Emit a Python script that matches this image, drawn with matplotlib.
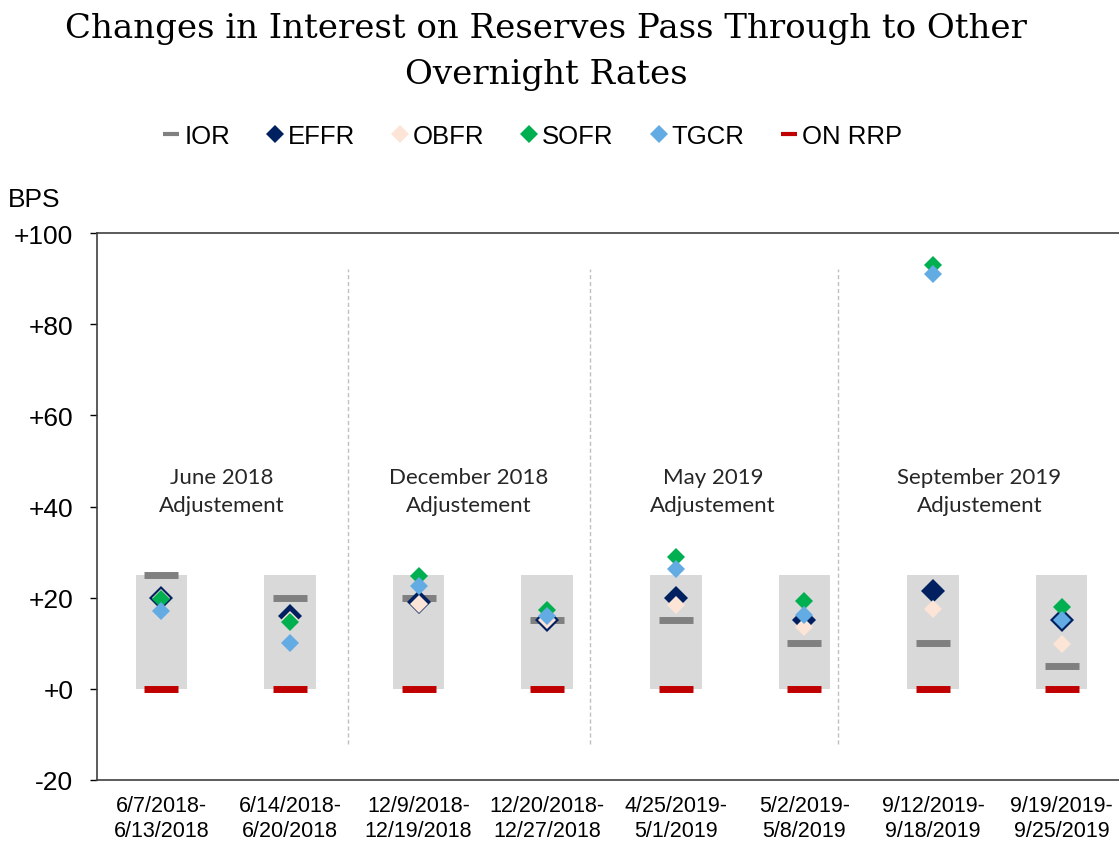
import numpy as np
import matplotlib.pyplot as plt
from matplotlib.lines import Line2D

# %%
periods = ["6/7/2018-\n6/13/2018", "6/14/2018-\n6/20/2018",
           "12/9/2018-\n12/19/2018", "12/20/2018-\n12/27/2018",
           "4/25/2019-\n5/1/2019", "5/2/2019-\n5/8/2019",
           "9/12/2019-\n9/18/2019", "9/19/2019-\n9/25/2019"]
ior = [25, 20, 20, 15, 15, 10, 10, 5]
effr = [20, 16, 19, 15, 20, 15, 21.5, 15.2]
obfr = [20, 15, 18.7, 15, 18.3, 13.5, 17.6, 9.9]
sofr = [19.8, 14.7, 24.7, 17.3, 29, 19.3, 93, 18]
tgcr = [17, 10, 22.5, 16, 26.3, 16.1, 91, 15.2]
on_rrp = [0, 0, 0, 0, 0, 0, 0, 0]
corridor_top = [25, 25, 25, 25, 25, 25, 25, 25]
groups = ["June 2018\nAdjustement", "December 2018\nAdjustement",
          "May 2019\nAdjustement", "September 2019\nAdjustement"]
yticks = [-20, 0, 20, 40, 60, 80, 100]
ytick_labels = ["-20", "+0", "+20", "+40", "+60", "+80", "+100"]

# %%
c_box = "#d9d9d9"
c_ior = "#808080"
c_effr = "#002060"
c_obfr = "#fce4d6"
c_sofr = "#00b050"
c_tgcr = "#62abe3"
c_rrp = "#c00000"

fig = plt.figure(figsize=(11.19, 8.45), dpi=100)
ax = fig.add_axes([97 / 1119, 64 / 845, 1029 / 1119, 547 / 845])

x = np.arange(len(periods))

ax.bar(x, corridor_top, width=0.4, color=c_box, zorder=1)
ax.plot(x, ior, ls="none", marker="_", ms=24, mew=5, color=c_ior, zorder=2)
ax.plot(x, on_rrp, ls="none", marker="_", ms=24, mew=5, color=c_rrp, zorder=2)
ax.plot(x, effr, ls="none", marker="D", ms=12.5, mew=0, color=c_effr, zorder=3)
ax.plot(x, obfr, ls="none", marker="D", ms=9, mew=0, color=c_obfr, zorder=4)
ax.plot(x, sofr, ls="none", marker="D", ms=9, mew=0, color=c_sofr, zorder=5)
ax.plot(x, tgcr, ls="none", marker="D", ms=9, mew=0, color=c_tgcr, zorder=6)

# separators between adjustments
for sx in [1.45, 3.33, 5.26]:
    ax.plot([sx, sx], [-12, 92], ls=(0, (3, 2)), lw=1, color="#c0c0c0", zorder=0)

# group labels
for gx, g in zip([0.47, 2.39, 4.29, 6.36], groups):
    ax.text(gx, 43.3, g, ha="center", va="center", fontsize=16,
            family="Lato", color="#262626", linespacing=1.5)

ax.set_xlim(-0.5, 7.5)
ax.set_ylim(-20, 100)
ax.set_yticks(yticks)
ax.set_yticklabels(ytick_labels, fontsize=19, family="Liberation Sans")
ax.set_xticks(x)
ax.set_xticklabels(periods, fontsize=15.5, family="Liberation Sans", linespacing=1.25)
ax.tick_params(axis="x", length=0, pad=11)
ax.tick_params(axis="y", length=5, width=1, pad=12, direction="out")
for s in ["left", "top", "bottom"]:
    ax.spines[s].set_color("#404040")
    ax.spines[s].set_linewidth(1.2)
ax.spines["right"].set_visible(False)

fig.text(8 / 1119, 1 - 200 / 845, "BPS", fontsize=19, family="Liberation Sans",
         va="center", ha="left")

fig.text(546 / 1119, 1 - 13 / 845,
         "Changes in Interest on Reserves Pass Through to Other\nOvernight Rates",
         ha="center", va="top", fontsize=24.5, family="DejaVu Serif", linespacing=1.55)

handles = [
    Line2D([], [], ls="none", marker="_", ms=12, mew=3, color=c_ior),
    Line2D([], [], ls="none", marker="D", ms=9, mew=0, color=c_effr),
    Line2D([], [], ls="none", marker="D", ms=9, mew=0, color=c_obfr),
    Line2D([], [], ls="none", marker="D", ms=9, mew=0, color=c_sofr),
    Line2D([], [], ls="none", marker="D", ms=9, mew=0, color=c_tgcr),
    Line2D([], [], ls="none", marker="_", ms=12, mew=3, color=c_rrp),
]
fig.legend(handles, ["IOR", "EFFR", "OBFR", "SOFR", "TGCR", "ON RRP"],
           loc="center", bbox_to_anchor=(533 / 1119, 1 - 137 / 845), ncol=6,
           frameon=False, handlelength=0.6, handletextpad=0.2, columnspacing=1.45,
           prop={"family": "Liberation Sans", "size": 18.5})

fig.savefig("out.png", dpi=100)
